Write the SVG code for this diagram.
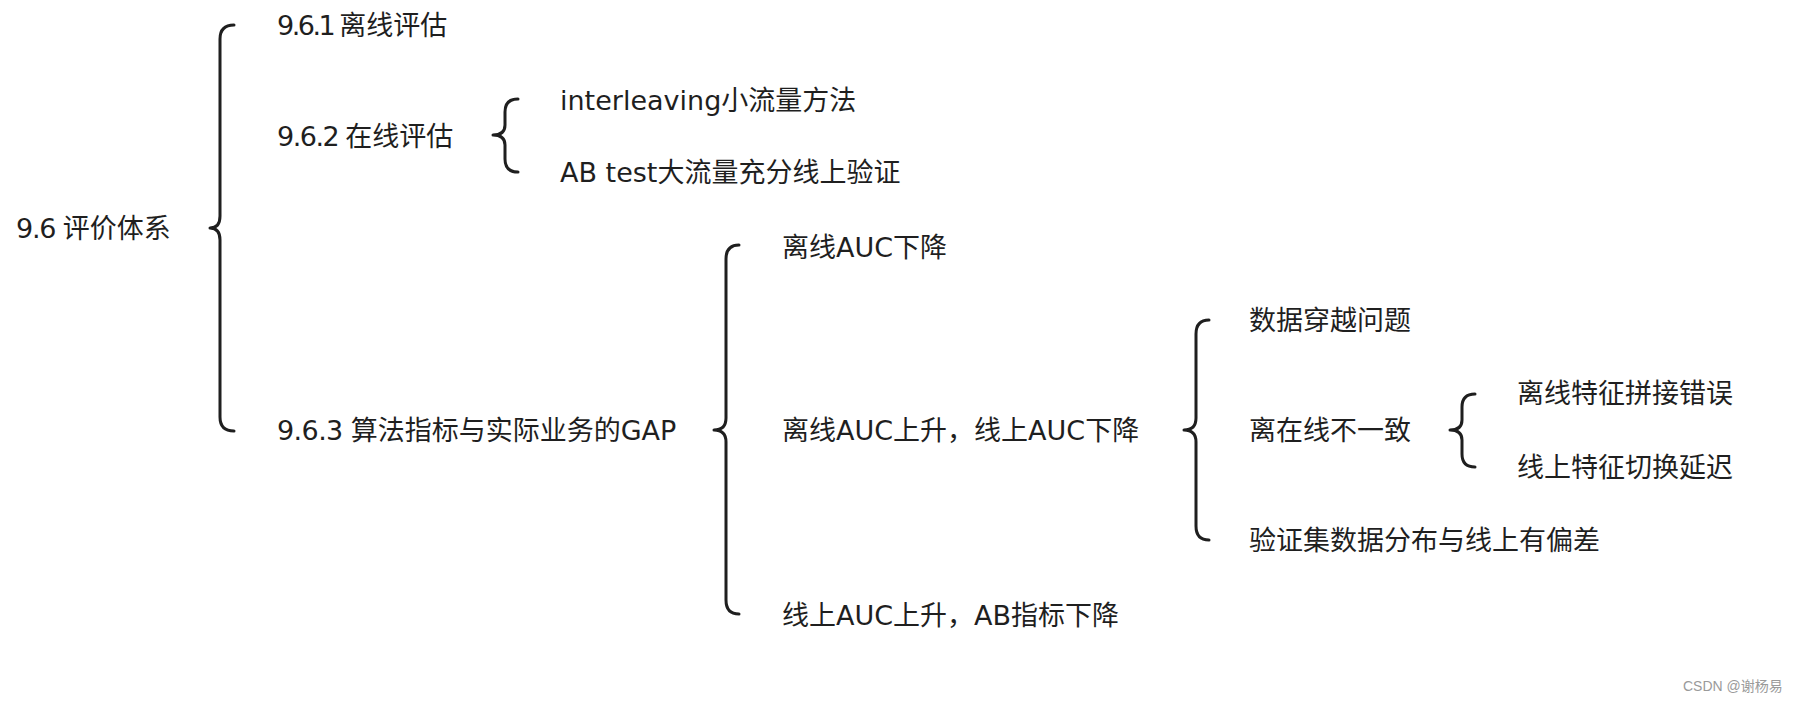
<svg xmlns="http://www.w3.org/2000/svg" width="1798" height="702" viewBox="0 0 1798 702">
<style>
.t{font-family:"DejaVu Sans","Noto Sans CJK SC",sans-serif;font-size:27px;fill:#1f1f1f;dominant-baseline:central}
.b{fill:none;stroke:#1f1f1f;stroke-width:3;stroke-linecap:round;stroke-linejoin:round}
.w{font-family:"Liberation Sans","Noto Sans CJK SC",sans-serif;font-size:14px;fill:#9a9a9a}
</style>
<rect width="1798" height="702" fill="#fff"/>
<g id="connectors">
<path class="b" d="M234,25 Q220,25 220,39 L220,216 Q220,228 210,228 Q220,228 220,240 L220,417 Q220,431 234,431"/>
<path class="b" d="M518,99 Q505,99 505,112 L505,125 Q505,135 493,135 Q505,135 505,145 L505,159 Q505,172 518,172"/>
<path class="b" d="M739,245 Q726,245 726,259 L726,418 Q726,430 714,430 Q726,430 726,442 L726,600 Q726,614 739,614"/>
<path class="b" d="M1209,320 Q1196,320 1196,334 L1196,418 Q1196,430 1184,430 Q1196,430 1196,442 L1196,526 Q1196,540 1209,540"/>
<path class="b" d="M1475,394 Q1462,394 1462,407 L1462,420 Q1462,430 1450,430 Q1462,430 1462,440 L1462,454 Q1462,467 1475,467"/>
</g>
<g id="n-root"><text class="t" x="16" y="228"><tspan letter-spacing="-1.2">9.6 </tspan>评价体系</text></g>
<g id="n-961"><text class="t" x="277" y="25"><tspan letter-spacing="-2.5">9.6.1 </tspan>离线评估</text></g>
<g id="n-962"><text class="t" x="277" y="136"><tspan letter-spacing="-1.5">9.6.2 </tspan>在线评估</text></g>
<g id="n-interleaving"><text class="t" x="560" y="100">interleaving小流量方法</text></g>
<g id="n-abtest"><text class="t" x="560" y="172">AB test大流量充分线上验证</text></g>
<g id="n-963"><text class="t" x="277" y="430"><tspan letter-spacing="-0.6">9.6.3 </tspan>算法指标与实际业务的GAP</text></g>
<g id="n-auc-down"><text class="t" x="782" y="247">离线AUC下降</text></g>
<g id="n-auc-up-down"><text class="t" x="782" y="430">离线AUC上升，线上AUC下降</text></g>
<g id="n-auc-ab"><text class="t" x="782" y="615">线上AUC上升，AB指标下降</text></g>
<g id="n-leak"><text class="t" x="1249" y="320">数据穿越问题</text></g>
<g id="n-inconsistent"><text class="t" x="1249" y="430">离在线不一致</text></g>
<g id="n-valid"><text class="t" x="1249" y="540">验证集数据分布与线上有偏差</text></g>
<g id="n-splice"><text class="t" x="1517" y="393">离线特征拼接错误</text></g>
<g id="n-delay"><text class="t" x="1517" y="467">线上特征切换延迟</text></g>
<text class="w" x="1683" y="691">CSDN @谢杨易</text>
</svg>
